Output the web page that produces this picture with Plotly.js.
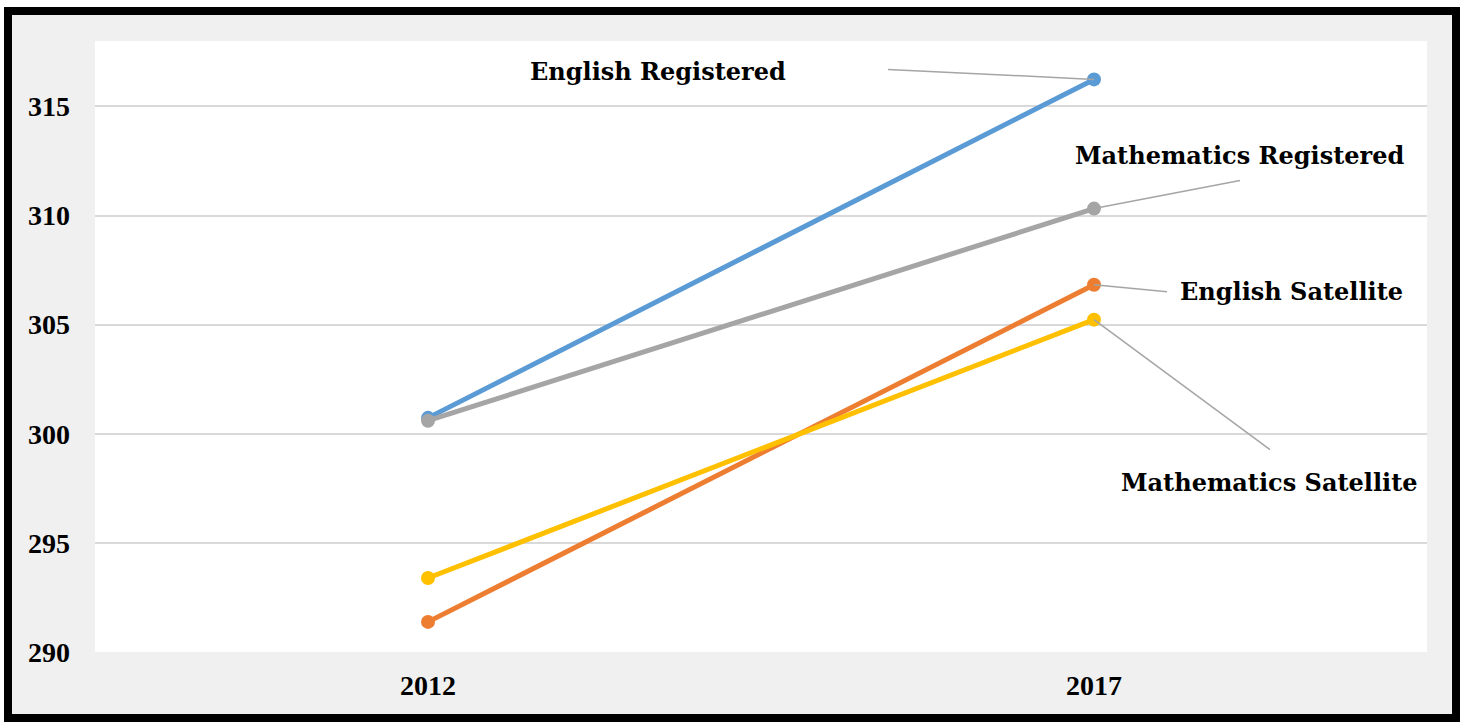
<!DOCTYPE html>
<html>
<head>
<meta charset="utf-8">
<script src="https://cdn.plot.ly/plotly-3.0.1.min.js"></script>
<style>
  html, body { margin: 0; padding: 0; background: #ffffff; }
  #frame { position: absolute; left: 4px; top: 7px; width: 1440px; height: 699px;
           border: 8px solid #000; background: #f0f0f0; }
  #chart { width: 1440px; height: 699px; }
</style>
</head>
<body>
<div id="frame"><div id="chart"></div></div>
<script>
const years = ['2012', '2017'];
const englishRegistered = [300.73, 316.24];
const englishSatellite = [291.38, 306.83];
const mathRegistered = [300.6, 310.32];
const mathSatellite = [293.39, 305.23];
const seriesNames = ['English Registered', 'English Satellite', 'Mathematics Registered', 'Mathematics Satellite'];
const seriesValues = [englishRegistered, englishSatellite, mathRegistered, mathSatellite];
const seriesColors = ['#5B9BD5', '#ED7D31', '#A5A5A5', '#FFC000'];
const yTicks = [290, 295, 300, 305, 310, 315];

const TICKFONT = 'Liberation Serif, Times New Roman, serif';
const LABELFONT = 'DejaVu Serif, serif';

const traces = seriesNames.map((n, i) => ({
  type: 'scatter', mode: 'lines+markers', name: n,
  x: years, y: seriesValues[i],
  line: { color: seriesColors[i], width: 5 },
  marker: { color: seriesColors[i], size: 14 },
  hoverinfo: 'skip'
}));

// leader lines: pixel offsets from the 2017 point to the line's tail (y up)
const leaders = [
  { s: 0, dx: -206, dy: 10 },
  { s: 2, dx: 146, dy: 28 },
  { s: 1, dx: 73, dy: -7 },
  { s: 3, dx: 176, dy: -130 }
];
const labels = [
  { s: 0, x: 0.4227, y: 0.9493, xanchor: 'center' },
  { s: 2, x: 0.8596, y: 0.8118, xanchor: 'center' },
  { s: 1, x: 0.8131, y: 0.5892, xanchor: 'left' },
  { s: 3, x: 0.8821, y: 0.2782, xanchor: 'center' }
];

const shapes = leaders.map(l => ({
  type: 'line', layer: 'above',
  xref: 'x', yref: 'y', xsizemode: 'pixel', ysizemode: 'pixel',
  xanchor: 1, yanchor: seriesValues[l.s][1],
  x0: 0, y0: 0, x1: l.dx, y1: l.dy,
  line: { color: '#A5A5A5', width: 1.5 }
}));

const annotations = labels.map(l => ({
  xref: 'paper', yref: 'paper', x: l.x, y: l.y, xanchor: l.xanchor, yanchor: 'middle',
  text: '<b>' + seriesNames[l.s] + '</b>', showarrow: false,
  font: { family: LABELFONT, size: 24, color: '#000' }
}));

const layout = {
  width: 1440, height: 699,
  margin: { l: 83, r: 25, t: 26, b: 62 },
  paper_bgcolor: '#f0f0f0', plot_bgcolor: '#ffffff',
  showlegend: false,
  xaxis: {
    type: 'category', range: [-0.5, 1.5],
    showgrid: false, zeroline: false, showline: false, ticks: '',
    tickfont: { family: TICKFONT, size: 28, color: '#000', weight: 'bold' },
    ticklabelstandoff: 14
  },
  yaxis: {
    range: [290, 318], tickvals: yTicks, ticktext: yTicks.map(String),
    showgrid: true, gridcolor: '#d9d9d9', gridwidth: 2,
    zeroline: false, showline: false, ticks: '',
    tickfont: { family: TICKFONT, size: 28, color: '#000', weight: 'bold' },
    ticklabelstandoff: 24
  },
  shapes: shapes,
  annotations: annotations
};

Plotly.newPlot('chart', traces, layout, { displayModeBar: false, staticPlot: true });
</script>
</body>
</html>
